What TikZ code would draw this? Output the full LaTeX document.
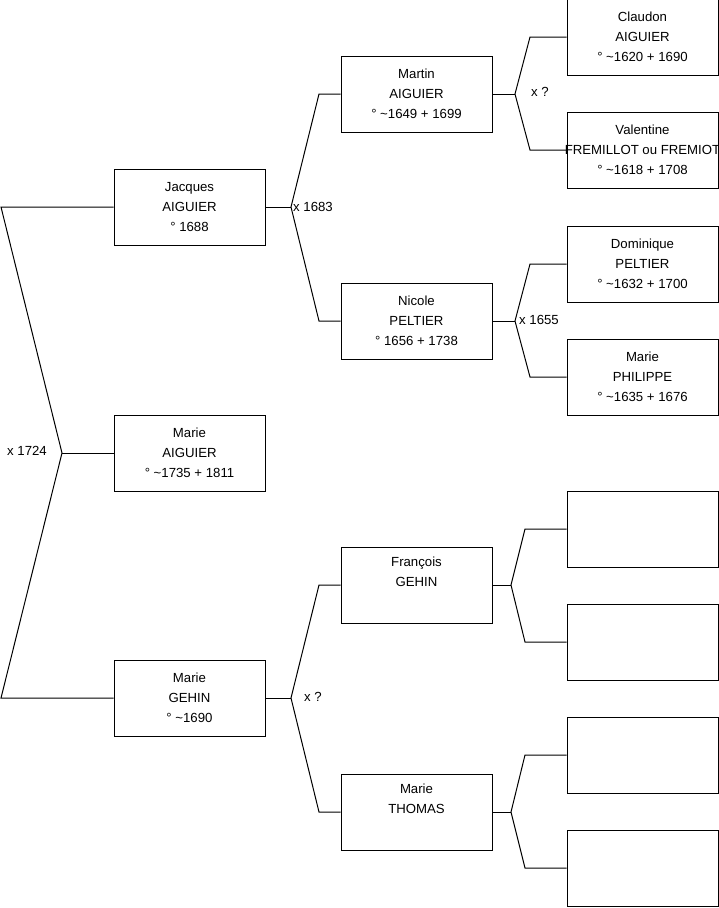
\documentclass[tikz,border=0pt]{standalone}
\usepackage{fontspec}
\setmainfont{Liberation Sans}
\begin{document}
\begin{tikzpicture}[x=1pt,y=-1pt,
                person/.style={
                    draw=black,
                    rectangle,
                    line width=1pt,
                    minimum width=151pt,
                    minimum height=76pt,
                    inner sep=0pt,
                    align=center,
                    font=\fontsize{13.2}{20}\selectfont
                },
                link/.style={
                    draw=black,
                    line width=1pt
                },
                union/.style={
                    anchor=west,
                    inner sep=0pt,
                    font=\fontsize{13.2}{15}\selectfont
                }
            ]
                \useasboundingbox (0,0) rectangle (719,908);

                % generation 1
                \node[person] (jacques)  at (189.5,207) {Jacques\\AIGUIER\\° 1688};
                \node[person] (marieA)   at (189.5,453) {Marie\\AIGUIER\\° \textasciitilde1735 + 1811};
                \node[person] (marieG)   at (189.5,698) {Marie\\GEHIN\\° \textasciitilde1690};

                % generation 2
                \node[person] (martin)   at (416.5,94)  {Martin\\AIGUIER\\° \textasciitilde1649 + 1699};
                \node[person] (nicole)   at (416.5,321) {Nicole\\PELTIER\\° 1656 + 1738};
                \node[person] (francois) at (416.5,585) {François\\GEHIN\\\strut};
                \node[person] (marieT)   at (416.5,812) {Marie\\THOMAS\\\strut};

                % generation 3
                \node[person] (claudon)   at (642.5,37)  {Claudon\\AIGUIER\\° \textasciitilde1620 + 1690};
                \node[person] (valentine) at (642.5,150) {Valentine\\\makebox[0pt][c]{FREMILLOT ou FREMIOT}\\° \textasciitilde1618 + 1708};
                \node[person] (dominique) at (642.5,264) {Dominique\\PELTIER\\° \textasciitilde1632 + 1700};
                \node[person] (marieP)    at (642.5,377) {Marie\\PHILIPPE\\° \textasciitilde1635 + 1676};
                \node[person] (empty1)    at (642.5,529) {};
                \node[person] (empty2)    at (642.5,642) {};
                \node[person] (empty3)    at (642.5,755) {};
                \node[person] (empty4)    at (642.5,868) {};

                % unions
                \coordinate (rootT) at (1,207);
                \coordinate (rootM) at (62,453);
                \coordinate (rootB) at (1,698);
                \draw[link] (jacques.west) -- (rootT) -- (rootM) -- (rootB) -- (marieG.west);
                \draw[link] (rootM) -- (marieA.west);
                \node[union] (u1724) at (7,451) {x 1724};

                \coordinate (jacJ) at (291,207);
                \coordinate (jacF) at (319,94);
                \coordinate (jacM) at (319,321);
                \draw[link] (jacques.east) -- (jacJ);
                \draw[link] (martin.west) -- (jacF) -- (jacJ) -- (jacM) -- (nicole.west);
                \node[union] (u1683) at (293,207) {x 1683};

                \coordinate (marJ) at (515,94);
                \coordinate (marF) at (530,37);
                \coordinate (marM) at (530,150);
                \draw[link] (martin.east) -- (marJ);
                \draw[link] (claudon.west) -- (marF) -- (marJ) -- (marM) -- (valentine.west);
                \node[union] (uMar) at (531,92) {x ?};

                \coordinate (nicJ) at (515,321);
                \coordinate (nicF) at (530,264);
                \coordinate (nicM) at (530,377);
                \draw[link] (nicole.east) -- (nicJ);
                \draw[link] (dominique.west) -- (nicF) -- (nicJ) -- (nicM) -- (marieP.west);
                \node[union] (u1655) at (519,320) {x 1655};

                \coordinate (gehJ) at (291,698);
                \coordinate (gehF) at (319,585);
                \coordinate (gehM) at (319,812);
                \draw[link] (marieG.east) -- (gehJ);
                \draw[link] (francois.west) -- (gehF) -- (gehJ) -- (gehM) -- (marieT.west);
                \node[union] (uGeh) at (304,697) {x ?};

                \coordinate (fraJ) at (511,585);
                \coordinate (fraF) at (525,529);
                \coordinate (fraM) at (525,642);
                \draw[link] (francois.east) -- (fraJ);
                \draw[link] (empty1.west) -- (fraF) -- (fraJ) -- (fraM) -- (empty2.west);

                \coordinate (thoJ) at (511,812);
                \coordinate (thoF) at (525,755);
                \coordinate (thoM) at (525,868);
                \draw[link] (marieT.east) -- (thoJ);
                \draw[link] (empty3.west) -- (thoF) -- (thoJ) -- (thoM) -- (empty4.west);
        \end{tikzpicture}
\end{document}
